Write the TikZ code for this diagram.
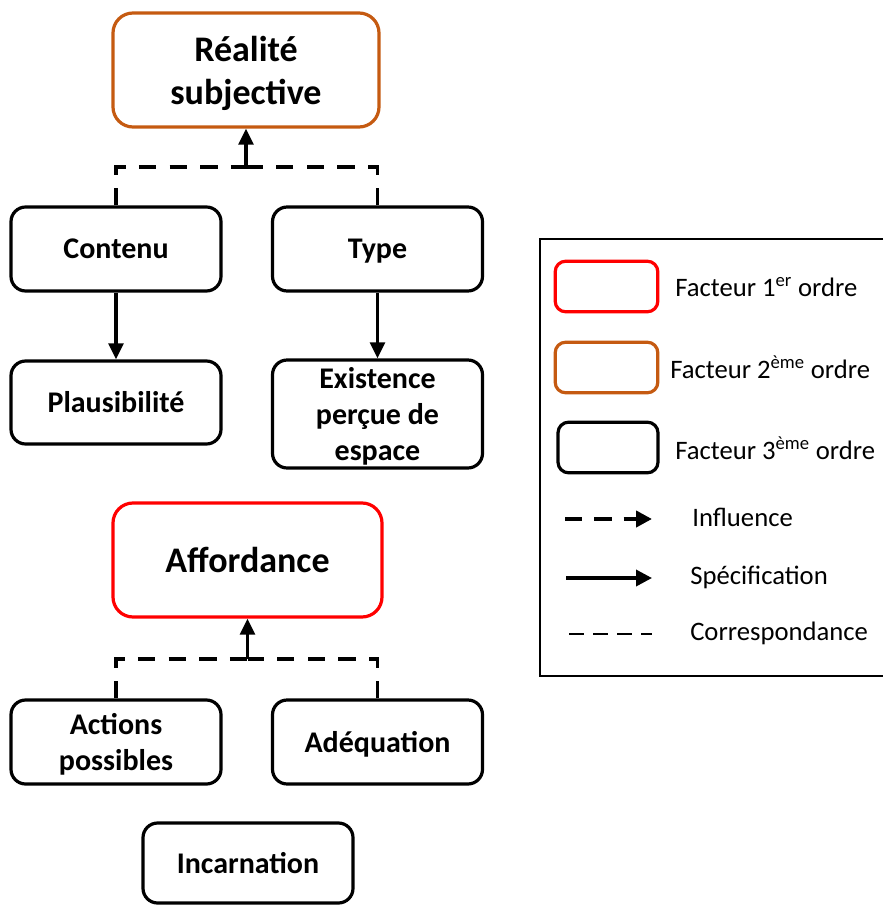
\documentclass[tikz,border=0pt]{standalone}
\usepackage{fontspec}
\setmainfont{Carlito}
\usetikzlibrary{arrows.meta}
\definecolor{orng}{RGB}{197,90,17}
\definecolor{rd}{RGB}{255,0,0}
\newcommand{\nodp}[1]{\raisebox{0pt}[\height][0pt]{#1}}
\tikzset{
  box/.style={draw=black, line width=2.4pt, rounded corners=11pt, align=center,
    font=\fontsize{22.5}{27}\selectfont\bfseries, inner sep=0pt},
  bigbox/.style={box, rounded corners=15pt, font=\fontsize{27}{32.4}\selectfont\bfseries},
  corr/.style={line width=2.9pt, dash pattern=on 13pt off 10pt},
  spec/.style={line width=2.4pt, -{Triangle[length=12pt,width=11pt]}},
  legtext/.style={anchor=west, font=\fontsize{20}{24}\selectfont, inner sep=0pt},
  legbox/.style={line width=2.4pt, rounded corners=8pt, minimum width=77pt, minimum height=38pt, inner sep=0pt}
}
\begin{document}
\begin{tikzpicture}[x=0.75pt,y=-0.75pt]
\useasboundingbox (0,0) rectangle (883,905);
% top group
\node[bigbox, draw=orng, minimum width=199.5pt, minimum height=85.5pt] (real) at (246,70) {Réalité\\\nodp{subjective}};
\node[box, minimum width=157.5pt, minimum height=63pt] (cont) at (116,249) {Contenu};
\node[box, minimum width=157.5pt, minimum height=63pt] (type) at (377.5,249) {\nodp{Type}};
\node[box, minimum width=157.5pt, minimum height=62.25pt] (plau) at (116,402.5) {Plausibilité};
\node[box, minimum width=157.5pt, minimum height=81pt] (exis) at (377.5,414) {Existence\\perçue de\\\nodp{espace}};
\coordinate (j1) at (246,167);
\draw[corr] (cont.north) |- (j1);
\draw[corr] (type.north) |- (j1);
\draw[spec] (j1) -- (real.south);
\draw[spec] (cont.south) -- (plau.north);
\draw[spec] (type.south) -- (exis.north);
% bottom group
\node[bigbox, draw=rd, minimum width=201.75pt, minimum height=85.5pt] (aff) at (247.5,560) {Affordance};
\node[box, minimum width=157.5pt, minimum height=63pt] (act) at (116,742) {Actions\\\nodp{possibles}};
\node[box, minimum width=157.5pt, minimum height=63pt] (adeq) at (377.5,742) {\nodp{Adéquation}};
\node[box, minimum width=157.5pt, minimum height=60pt] (inc) at (248,863) {Incarnation};
\coordinate (j2) at (247.5,659);
\draw[corr] (act.north) |- (j2);
\draw[corr] (adeq.north) |- (j2);
\draw[spec] (j2) -- (aff.south);
% legend
\draw[line width=1.9pt] (883,239) -- (540,239) -- (540,676) -- (883,676);
\node[legbox, draw=rd] (l1) at (606.5,286.5) {};
\node[legbox, draw=orng] (l2) at (606.5,367.5) {};
\node[legbox, draw=black, minimum width=75pt] (l3) at (608,447.5) {};
\node[legtext] (t1) at (675,287) {Facteur 1\textsuperscript{er} ordre};
\node[legtext] (t2) at (670,367) {Facteur 2\textsuperscript{ème} ordre};
\node[legtext] (t3) at (675,448) {Facteur 3\textsuperscript{ème} ordre};
\coordinate (a1) at (565,519); \coordinate (a2) at (652,519);
\draw[line width=3pt, dash pattern=on 13pt off 9pt, -{Triangle[length=12pt,width=12pt]}] (a1) -- (a2);
\node[legtext] (t4) at (692,517) {Influence};
\coordinate (b1) at (566,578); \coordinate (b2) at (652,578);
\draw[line width=2.6pt, -{Triangle[length=12pt,width=12pt]}] (b1) -- (b2);
\node[legtext] (t5) at (690,577) {Spécification};
\coordinate (c1) at (569,634); \coordinate (c2) at (652,634);
\draw[line width=2.2pt, dash pattern=on 11pt off 7pt] (c1) -- (c2);
\node[legtext] (t6) at (690,633) {Correspondance};
\end{tikzpicture}
\end{document}
